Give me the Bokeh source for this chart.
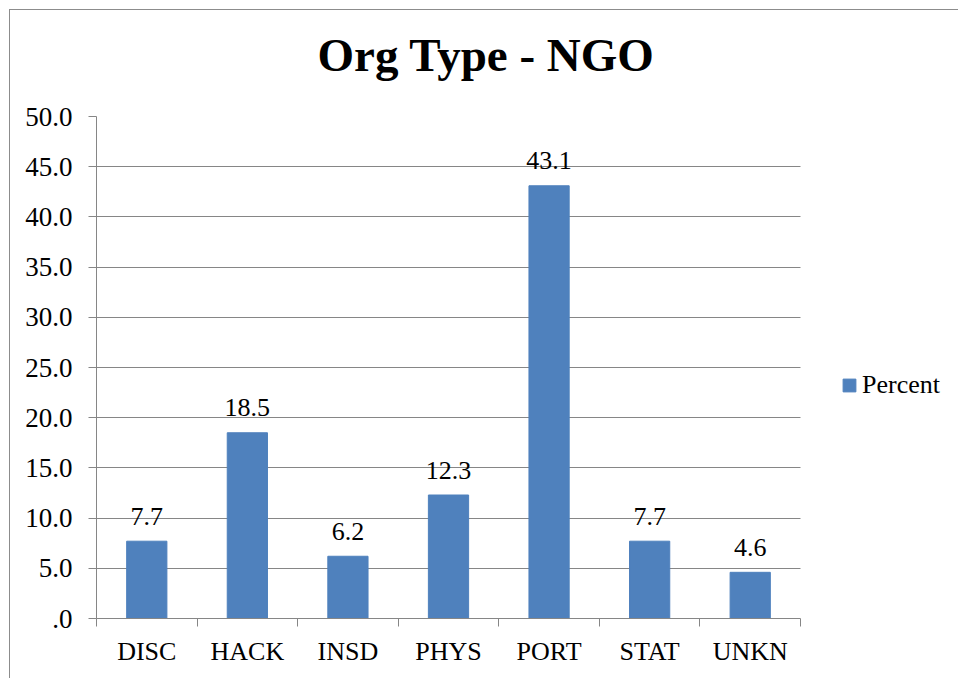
from bokeh.plotting import figure
from bokeh.models import (Range1d, LinearAxis, FixedTicker,
                          NumeralTickFormatter, Title, ColumnDataSource)
from bokeh.core.properties import value
from bokeh.embed import file_html
from bokeh.resources import INLINE

categories = ["DISC", "HACK", "INSD", "PHYS", "PORT", "STAT", "UNKN"]
percent = [7.7, 18.5, 6.2, 12.3, 43.1, 7.7, 4.6]
labels = ["%.1f" % v for v in percent]
y_ticks = [0, 5, 10, 15, 20, 25, 30, 35, 40, 45, 50]

FONT = "Liberation Serif"
GRID = "#868686"
BLUE = "#4F81BD"

# layout constants (pixels)
FIG_W, FIG_H = 949, 669
BORDER_L, BORDER_T, BORDER_B = 86, 106, 61
PLOT_W = 704            # width of the category area
FRAME_W = FIG_W - BORDER_L

n = len(categories)
x_end = n * FRAME_W / PLOT_W
centers = [i + 0.5 for i in range(n)]
src = ColumnDataSource(dict(x=centers, cat=categories, val=percent, lbl=labels))

p = figure(width=FIG_W, height=FIG_H, x_range=Range1d(0, x_end),
           y_range=Range1d(0, 50), output_backend="svg", toolbar_location=None,
           x_axis_location=None, min_border_left=BORDER_L, min_border_right=0,
           min_border_top=BORDER_T, min_border_bottom=BORDER_B)
p.styles = {"margin-left": "9px", "margin-top": "9px",
            "border-left": "1px solid #8c8c8c", "border-top": "1px solid #8c8c8c"}
p.outline_line_color = None
p.background_fill_color = "white"
p.border_fill_color = "white"

p.vbar(x="x", top="val", width=0.4, source=src, color=BLUE, legend_label="Percent")
p.text(x="x", y="val", text="lbl", source=src, text_align="center",
       text_baseline="alphabetic", y_offset=-25, text_font=value(FONT),
       text_font_size="26px", text_color="black")

# y axis
ya = p.yaxis[0]
ya.ticker = FixedTicker(ticks=y_ticks)
ya.formatter = NumeralTickFormatter(format="0.0")
ya.major_label_overrides = {0: ".0"}
ya.axis_line_color = GRID
ya.major_tick_line_color = GRID
ya.major_tick_out = 8
ya.major_tick_in = 0
ya.minor_tick_line_color = None
ya.major_label_standoff = 16
ya.major_label_text_font = FONT
ya.major_label_text_font_size = "27px"
ya.major_label_text_color = "black"

p.ygrid.ticker = FixedTicker(ticks=y_ticks)
p.ygrid.grid_line_color = GRID
p.ygrid.cross_bounds = (0, n)
p.xgrid.grid_line_color = None

# x axis: ticks at category edges, labels at centers
edges = list(range(n + 1))
tick_axis = LinearAxis(ticker=FixedTicker(ticks=edges), bounds=(0, n),
                       major_tick_out=8, major_tick_in=0, minor_tick_line_color=None,
                       axis_line_color=GRID, major_tick_line_color=GRID,
                       major_label_text_font_size="0px", major_label_standoff=0)
tick_axis.major_label_overrides = {e: "" for e in edges}
p.add_layout(tick_axis, "below")
cat_axis = LinearAxis(ticker=FixedTicker(ticks=centers), axis_line_color=None,
                      major_tick_line_color=None, minor_tick_line_color=None,
                      major_label_text_font=FONT, major_label_text_font_size="26px",
                      major_label_text_color="black", major_label_standoff=4)
cat_axis.major_label_overrides = {c: name for c, name in zip(centers, categories)}
p.add_layout(cat_axis, "below")

# spacer between frame and title
p.add_layout(Title(text=" ", text_font_size="1px", standoff=33), "above")

# title
p.title = Title(text="Org Type - NGO", align="left", text_font=FONT,
                text_font_size="47px", text_font_style="bold", text_color="black",
                offset=221, standoff=0)

# legend
lg = p.legend[0]
lg.location = (745, 218)
lg.padding = 0
lg.margin = 0
lg.spacing = 0
lg.glyph_width = 16
lg.glyph_height = 16
lg.label_standoff = 5
lg.label_text_font = FONT
lg.label_text_font_size = "26px"
lg.label_text_color = "black"
lg.border_line_color = None
lg.background_fill_alpha = 0

open("out.html", "w").write(file_html(p, INLINE))
